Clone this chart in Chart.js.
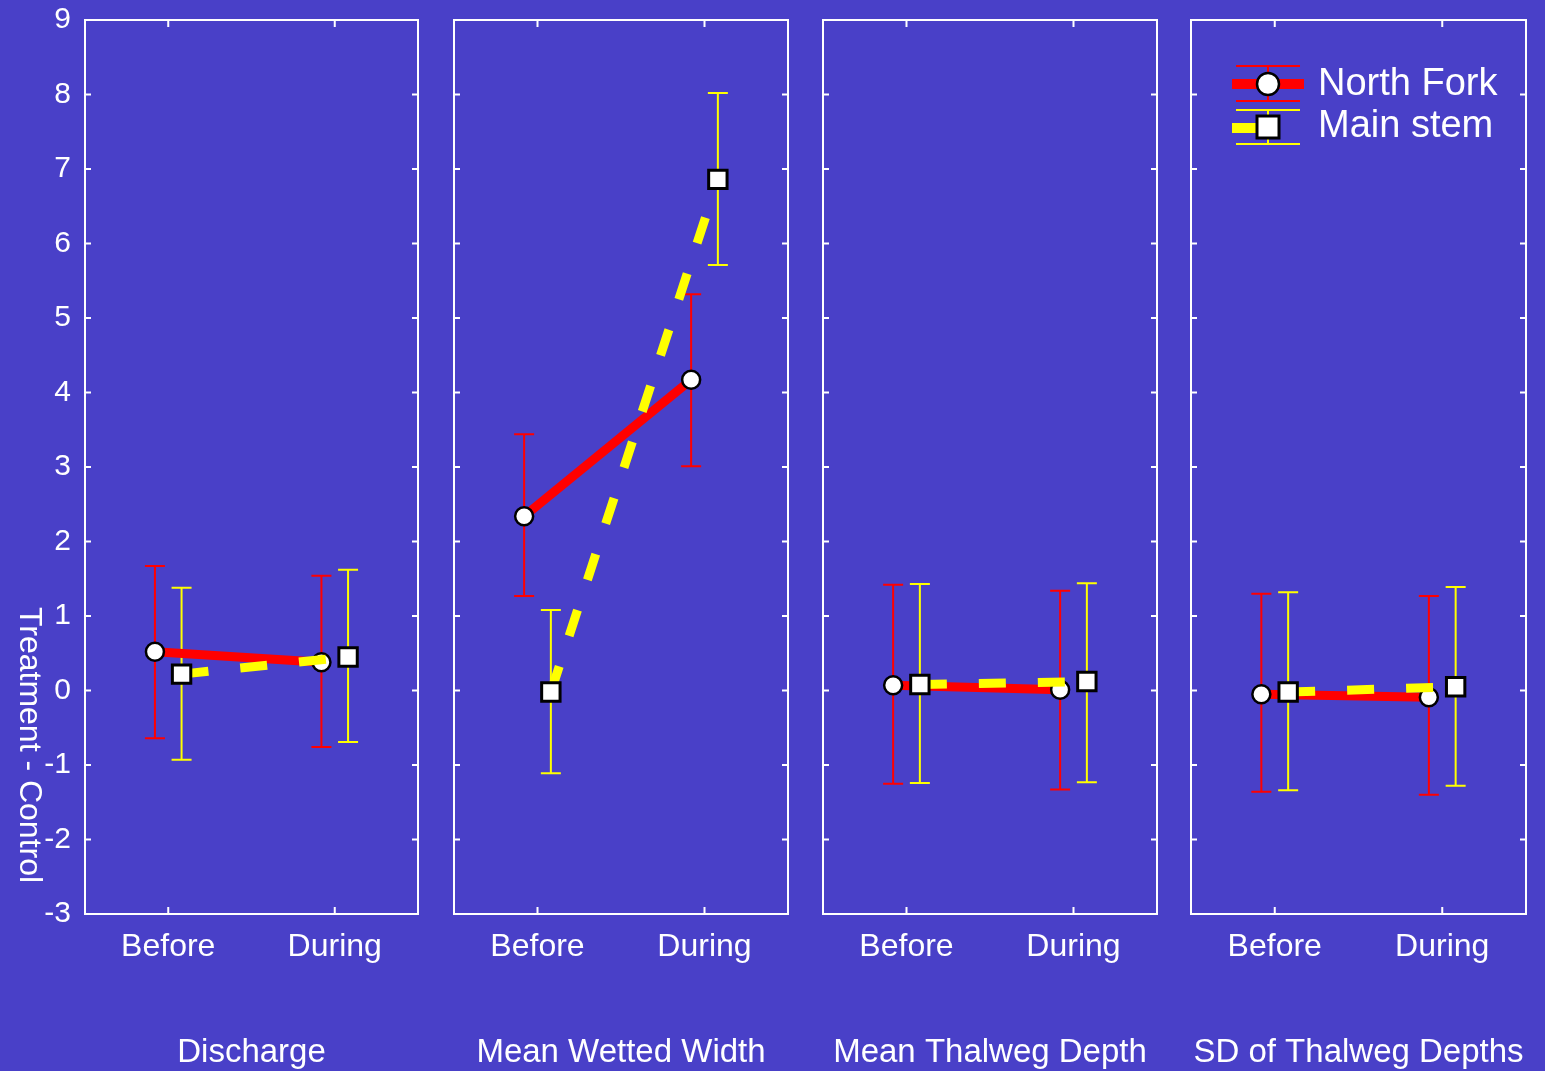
<!DOCTYPE html>
<html>
<head>
<meta charset="utf-8">
<script src="https://cdn.jsdelivr.net/npm/chart.js@4/dist/chart.umd.min.js"></script>
<style>
  html, body { margin: 0; padding: 0; }
  body { width: 1545px; height: 1071px; background: #4940c8; overflow: hidden; position: relative; }
  .panel { position: absolute; top: 0; height: 1071px; }
</style>
</head>
<body>
<div class="panel" id="p0"><canvas id="c0"></canvas></div>
<div class="panel" id="p1"><canvas id="c1"></canvas></div>
<div class="panel" id="p2"><canvas id="c2"></canvas></div>
<div class="panel" id="p3"><canvas id="c3"></canvas></div>
<script>
// data
const categories = ["Before", "During"];
const measures = ["Discharge", "Mean Wetted Width", "Mean Thalweg Depth", "SD of Thalweg Depths"];
const seriesNames = ["North Fork", "Main stem"];

// North Fork: mean, upper and lower end of error bar, per measure [Before, During]
const northForkMean  = [[0.52, 0.38], [2.34, 4.17], [0.07, 0.01], [-0.05, -0.09]];
const northForkUpper = [[1.67, 1.54], [3.44, 5.32], [1.42, 1.34], [1.30, 1.27]];
const northForkLower = [[-0.64, -0.76], [1.27, 3.01], [-1.25, -1.33], [-1.36, -1.40]];

// Main stem
const mainStemMean  = [[0.22, 0.45], [-0.02, 6.86], [0.08, 0.12], [-0.02, 0.05]];
const mainStemUpper = [[1.38, 1.62], [1.08, 8.02], [1.43, 1.44], [1.32, 1.39]];
const mainStemLower = [[-0.93, -0.69], [-1.11, 5.71], [-1.24, -1.23], [-1.34, -1.28]];

const yMin = -3, yMax = 9;

// layout of the four boxes (px)
const boxLeft  = [85, 454, 823, 1191];
const boxRight = [418, 788, 1157, 1526];
const seriesShift = 0.08; // sideways dodge of the two series

Chart.defaults.font.family = "'Liberation Sans', Arial, sans-serif";
Chart.defaults.color = "#ffffff";

const RED = "#ff0000";
const YELLOW = "#ffff00";

// frame with inward ticks
const framePlugin = {
  id: "frame",
  beforeDatasetsDraw(chart) {
    const { ctx, chartArea: a, scales } = chart;
    ctx.save();
    ctx.strokeStyle = "#ffffff";
    ctx.lineWidth = 2;
    ctx.strokeRect(a.left, a.top, a.right - a.left, a.bottom - a.top);
    ctx.beginPath();
    scales.y.ticks.forEach((t) => {
      const y = scales.y.getPixelForValue(t.value);
      ctx.moveTo(a.left, y); ctx.lineTo(a.left + 6, y);
      ctx.moveTo(a.right, y); ctx.lineTo(a.right - 6, y);
    });
    categories.forEach((c, j) => {
      const x = scales.x.getPixelForValue(j);
      ctx.moveTo(x, a.top); ctx.lineTo(x, a.top + 7);
      ctx.moveTo(x, a.bottom); ctx.lineTo(x, a.bottom - 7);
    });
    ctx.stroke();
    ctx.restore();
  },
};

// vertical error bars with caps
const errorBarPlugin = {
  id: "errorBars",
  beforeDatasetsDraw(chart) {
    const { ctx, scales } = chart;
    ctx.save();
    ctx.lineWidth = 2;
    chart.data.datasets.forEach((ds, di) => {
      const meta = chart.getDatasetMeta(di);
      ctx.strokeStyle = ds.borderColor;
      meta.data.forEach((pt, j) => {
        const x = pt.x;
        const yHi = scales.y.getPixelForValue(ds.errUpper[j]);
        const yLo = scales.y.getPixelForValue(ds.errLower[j]);
        ctx.beginPath();
        ctx.moveTo(x, yHi); ctx.lineTo(x, yLo);
        ctx.moveTo(x - 10, yHi); ctx.lineTo(x + 10, yHi);
        ctx.moveTo(x - 10, yLo); ctx.lineTo(x + 10, yLo);
        ctx.stroke();
      });
    });
    ctx.restore();
  },
};

// rotated y title, only on first chart
const yTitlePlugin = {
  id: "yTitle",
  afterDraw(chart) {
    if (chart.canvas.id !== "c0") return;
    const ctx = chart.ctx;
    ctx.save();
    ctx.translate(29, 745);
    ctx.rotate(Math.PI / 2);
    ctx.fillStyle = "#ffffff";
    ctx.font = "32px 'Liberation Sans', Arial, sans-serif";
    ctx.textAlign = "center";
    ctx.textBaseline = "middle";
    ctx.fillText("Treatment - Control", 0, 0);
    ctx.restore();
  },
};

// legend inside the last box
const legendPlugin = {
  id: "boxLegend",
  afterDraw(chart) {
    if (chart.canvas.id !== "c3") return;
    const { ctx, chartArea: a } = chart;
    const mx = a.right - 258;
    ctx.save();

    // North Fork
    let y = a.top + 64;
    ctx.strokeStyle = RED;
    ctx.lineWidth = 2;
    ctx.beginPath();
    ctx.moveTo(mx - 32, y - 18); ctx.lineTo(mx + 32, y - 18);
    ctx.moveTo(mx - 32, y + 17); ctx.lineTo(mx + 32, y + 17);
    ctx.moveTo(mx, y - 18); ctx.lineTo(mx, y + 17);
    ctx.stroke();
    ctx.lineWidth = 10;
    ctx.beginPath();
    ctx.moveTo(mx - 36, y); ctx.lineTo(mx + 36, y);
    ctx.stroke();
    ctx.fillStyle = "#ffffff";
    ctx.strokeStyle = "#000000";
    ctx.lineWidth = 2.5;
    ctx.beginPath();
    ctx.arc(mx, y, 11, 0, Math.PI * 2);
    ctx.fill();
    ctx.stroke();

    // Main stem
    y = a.top + 107;
    ctx.strokeStyle = YELLOW;
    ctx.lineWidth = 2;
    ctx.beginPath();
    ctx.moveTo(mx - 32, y - 17); ctx.lineTo(mx + 32, y - 17);
    ctx.moveTo(mx - 32, y + 17); ctx.lineTo(mx + 32, y + 17);
    ctx.moveTo(mx, y - 17); ctx.lineTo(mx, y + 17);
    ctx.stroke();
    ctx.lineWidth = 10;
    ctx.beginPath();
    ctx.moveTo(mx - 36, y + 1); ctx.lineTo(mx - 8, y + 1);
    ctx.stroke();
    ctx.fillStyle = "#ffffff";
    ctx.strokeStyle = "#000000";
    ctx.lineWidth = 3;
    ctx.fillRect(mx - 11, y - 11, 22, 22);
    ctx.strokeRect(mx - 11, y - 11, 22, 22);

    ctx.fillStyle = "#ffffff";
    ctx.font = "38px 'Liberation Sans', Arial, sans-serif";
    ctx.textAlign = "left";
    ctx.textBaseline = "middle";
    ctx.fillText(seriesNames[0], a.right - 208, a.top + 65);
    ctx.fillText(seriesNames[1], a.right - 208, a.top + 107);
    ctx.restore();
  },
};

function makeChart(i) {
  const first = i === 0;
  const padL = first ? 0 : 17;
  const wrapLeft = first ? 0 : boxLeft[i] - padL;
  const wrapRight = i === 3 ? 1545 : boxRight[i] + 17;
  const wrap = document.getElementById("p" + i);
  wrap.style.left = wrapLeft + "px";
  wrap.style.width = (wrapRight - wrapLeft) + "px";

  const nf = categories.map((c, j) => ({ x: j - seriesShift, y: northForkMean[i][j] }));
  const ms = categories.map((c, j) => ({ x: j + seriesShift, y: mainStemMean[i][j] }));

  return new Chart(document.getElementById("c" + i), {
    type: "scatter",
    data: {
      datasets: [
        {
          label: seriesNames[0],
          data: nf,
          errUpper: northForkUpper[i],
          errLower: northForkLower[i],
          showLine: true,
          borderColor: RED,
          borderWidth: 9,
          pointStyle: "circle",
          pointRadius: 9,
          pointBackgroundColor: "#ffffff",
          pointBorderColor: "#000000",
          pointBorderWidth: 2.5,
          order: 2,
        },
        {
          label: seriesNames[1],
          data: ms,
          errUpper: mainStemUpper[i],
          errLower: mainStemLower[i],
          showLine: true,
          borderColor: YELLOW,
          borderWidth: 9,
          borderDash: [27, 32],
          pointStyle: "rect",
          pointRadius: 13,
          pointBackgroundColor: "#ffffff",
          pointBorderColor: "#000000",
          pointBorderWidth: 3,
          order: 1,
        },
      ],
    },
    options: {
      responsive: true,
      maintainAspectRatio: false,
      devicePixelRatio: 1,
      animation: false,
      layout: { padding: { top: 20, bottom: 0, left: padL, right: wrapRight - boxRight[i] } },
      plugins: { legend: { display: false }, tooltip: { enabled: false } },
      scales: {
        x: {
          type: "linear",
          min: -0.5,
          max: 1.5,
          grid: { display: false, drawTicks: false },
          border: { display: false },
          afterBuildTicks: (scale) => {
            scale.ticks = categories.map((c, j) => ({ value: j }));
          },
          afterFit: (scale) => { scale.height = 157; },
          ticks: {
            autoSkip: false,
            maxRotation: 0,
            padding: 14,
            color: "#ffffff",
            font: { size: 32 },
            callback: (v) => categories[Math.round(v)] ?? "",
          },
          title: {
            display: true,
            text: measures[i],
            color: "#ffffff",
            font: { size: 33, lineHeight: 1.1 },
            padding: { top: 0, bottom: 0 },
          },
        },
        y: {
          display: first,
          min: yMin,
          max: yMax,
          grid: { display: false, drawTicks: false },
          border: { display: false },
          afterFit: (scale) => {
            if (!first) return;
            scale.width = 85;
            // keep the box top where the other panels have it
            scale.paddingTop = 0;
            scale.paddingBottom = 0;
          },
          ticks: {
            stepSize: 1,
            padding: 14,
            color: "#ffffff",
            font: { size: 30 },
          },
        },
      },
    },
    plugins: [framePlugin, errorBarPlugin, yTitlePlugin, legendPlugin],
  });
}

measures.forEach((m, i) => makeChart(i));
</script>
</body>
</html>
